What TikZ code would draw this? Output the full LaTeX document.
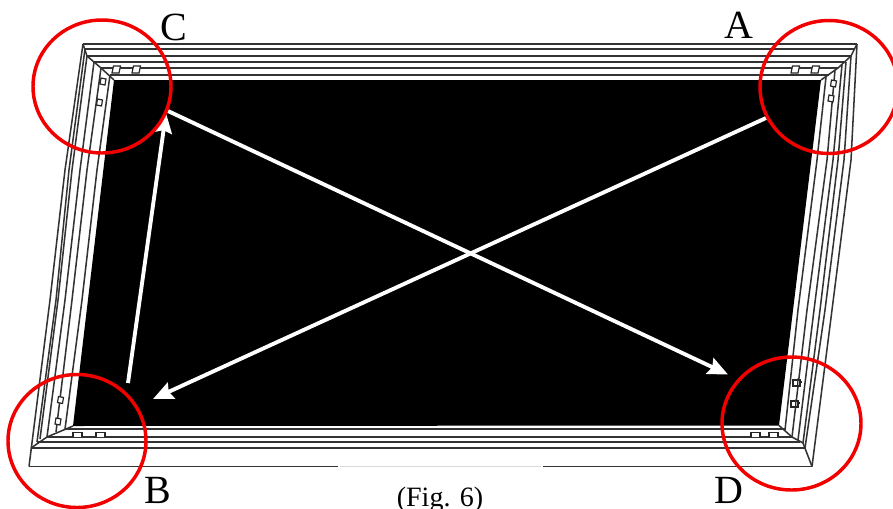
\documentclass[tikz,border=0pt]{standalone}
\usepackage{fontspec}
\setmainfont{Liberation Serif}
\usetikzlibrary{arrows.meta}
\tikzset{
  frameline/.style={draw=black!80, line width=1.15pt},
  clipbox/.style={draw=black!85, line width=0.9pt, fill=white},
  redring/.style={draw=red!95!black, line width=2.6pt},
  whitearrow/.style={draw=white, line width=2.9pt, -{Stealth[length=15pt, width=13pt, inset=2pt]}, fill=white},
  cornerlabel/.style={font=\fontsize{30}{30}\selectfont, inner sep=0pt}
}
\begin{document}
\begin{tikzpicture}[x=0.75pt, y=-0.75pt]
    \clip (0, 0) rectangle (893, 508);

    % Panel
    \fill[black] (114, 80) -- (821, 80) -- (779, 425.5) -- (73, 426) -- cycle;

    % Top Lines
    \draw[frameline] (83, 44) -- (857, 44);
    \draw[frameline] (85, 49) -- (855, 49);
    \draw[frameline] (87, 56) -- (851, 56);
    \draw[frameline] (94, 62) -- (846, 62);
    \draw[frameline] (101, 68) -- (838, 68);
    \draw[frameline] (110, 75) -- (829, 75);

    % Bottom Lines
    \draw[frameline] (65, 429) -- (785, 429);
    \draw[frameline] (47, 437) -- (792, 437);
    \draw[frameline] (37, 442) -- (800, 442);
    \draw[frameline] (31, 448) -- (805, 448);
    \draw[frameline] (29, 466.5) -- (338, 466.5);
    \draw[black!15, line width=0.9pt] (340, 466.5) -- (541, 466.5);
    \draw[frameline] (543, 466.5) -- (812, 466.5);

    % Left Lines
    \draw[frameline] (83, 44) -- (65, 170) -- (50, 300) -- (29, 466.5);
    \draw[frameline] (85, 49) -- (69, 170) -- (56, 300) -- (37, 442);
    \draw[frameline] (87, 56) -- (72, 170) -- (58, 300) -- (40, 439);
    \draw[frameline] (94, 62) -- (80, 170) -- (65, 300) -- (47, 437);
    \draw[frameline] (101, 68) -- (87, 170) -- (72, 300) -- (56, 432);
    \draw[frameline] (110, 75) -- (97, 170) -- (82, 300) -- (65, 429);

    % Right Lines
    \draw[frameline] (857, 44) -- (851, 160) -- (832, 310) -- (812, 466.5);
    \draw[frameline] (851, 56) -- (844, 160) -- (825, 310) -- (805, 448);
    \draw[frameline] (846, 62) -- (838, 160) -- (820, 310) -- (803, 443);
    \draw[frameline] (842, 65) -- (833, 160) -- (814, 310) -- (798, 440);
    \draw[frameline] (835, 70) -- (827, 160) -- (807, 310) -- (792, 437);
    \draw[frameline] (826, 77) -- (817, 160) -- (798, 310) -- (785, 430);

    % Corner Miters
    \draw[frameline] (83, 44) -- (87, 56) -- (101, 68) -- (114, 80);
    \draw[frameline] (857, 44) -- (851, 56) -- (838, 68) -- (821, 80);
    \draw[frameline] (31, 448) -- (47, 437) -- (73, 426);
    \draw[frameline] (812, 466.5) -- (803, 443) -- (792, 437) -- (779, 425.5);

    % Clips (top)
    \foreach \x in {112, 132, 791, 811}
      \draw[clipbox] (\x + 1.5, 66) -- ++(7, 0) -- ++(-1.5, 7) -- ++(-7, 0) -- cycle;
    % Clips (bottom)
    \foreach \x in {73, 96, 751, 769}
      \draw[clipbox] (\x, 437) -- (\x, 432.5) -- ++(9, 0) -- (\x + 9, 437);
    % Clips (left and right)
    \foreach \x/\y in {100/78, 96.5/99, 830.5/80, 828/95, 57.5/396.5, 55/418}
      \draw[clipbox] (\x + 1, \y) -- ++(5, 1) -- ++(-1, 6) -- ++(-5, -1) -- cycle;
    \foreach \x/\y in {793/380, 791/401} {
      \draw[clipbox] (\x, \y) rectangle ++(7, 6);
      \draw[clipbox] (\x + 5, \y - 1.5) -- ++(-0.5, 9);
      \draw[clipbox] (\x + 7, \y + 2) -- ++(2, 0);
    }

    % Arrows
    \coordinate (armAstart) at (766, 118);
    \coordinate (armBend) at (153, 399);
    \coordinate (armBstart) at (128, 383);
    \coordinate (armCend) at (166, 113);
    \coordinate (armCstart) at (168, 111);
    \coordinate (armDend) at (728, 374.5);
    \draw[whitearrow] (armBstart) -- (armCend);
    \draw[whitearrow] (armAstart) -- (armBend);
    \draw[whitearrow] (armCstart) -- (armDend);

    % Red Rings
    \draw[redring] (102, 86.5) ellipse [x radius=69, y radius=66.5];
    \draw[redring] (829, 87) ellipse [x radius=69, y radius=66.5];
    \draw[redring] (77, 441) ellipse [x radius=69, y radius=66.5];
    \draw[redring] (791.5, 423.5) ellipse [x radius=69.5, y radius=66.5];

    % Labels
    \node[cornerlabel] (labelC) at (174, 27) {C};
    \node[cornerlabel] (labelA) at (739, 25) {A};
    \node[cornerlabel] (labelB) at (158, 490.5) {B};
    \node[cornerlabel] (labelD) at (729, 490.5) {D};
    \node[font=\fontsize{21}{21}\selectfont, inner sep=0pt] (caption) at (440, 499.5) {(Fig. 6)};
\end{tikzpicture}
\end{document}
